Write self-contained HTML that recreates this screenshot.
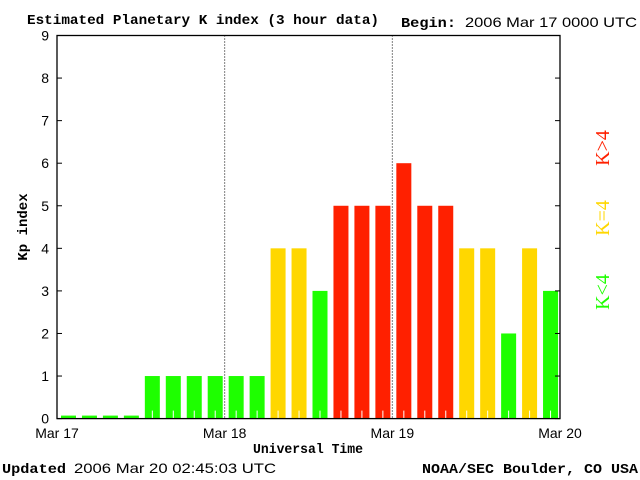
<!DOCTYPE html>
<html><head><meta charset="utf-8"><style>
html,body{margin:0;padding:0;background:#fff;}
svg{display:block;}
.s{font-family:"Liberation Sans",sans-serif;font-size:14px;fill:#000;}
.b{font-family:"Liberation Mono",monospace;font-weight:bold;fill:#000;}
</style></head><body>
<svg id="chart" width="640" height="480" viewBox="0 0 640 480" xmlns="http://www.w3.org/2000/svg">
<text class="b" x="27" y="24" font-size="14" textLength="352" lengthAdjust="spacingAndGlyphs">Estimated Planetary K index (3 hour data)</text>
<text class="b" x="401" y="27" font-size="14" textLength="55" lengthAdjust="spacingAndGlyphs">Begin:</text>
<text class="s" x="465" y="27" textLength="172" lengthAdjust="spacingAndGlyphs">2006 Mar 17 0000 UTC</text>
<g id="bars"></g>
<g id="axes"></g>
<text class="b" transform="translate(27,227) rotate(-90)" text-anchor="middle" font-size="14">Kp index</text>
<text class="b" x="308" y="453" text-anchor="middle" font-size="14" textLength="110" lengthAdjust="spacingAndGlyphs">Universal Time</text>
<text transform="translate(609,148) rotate(-90)" text-anchor="middle" font-family="Liberation Serif,serif" font-size="20" fill="#ff2000">K&gt;4</text>
<text transform="translate(609,218) rotate(-90)" text-anchor="middle" font-family="Liberation Serif,serif" font-size="20" fill="#ffd700">K=4</text>
<text transform="translate(609,292) rotate(-90)" text-anchor="middle" font-family="Liberation Serif,serif" font-size="20" fill="#1eff00">K&lt;4</text>
<text class="b" x="2" y="473" font-size="14" textLength="64" lengthAdjust="spacingAndGlyphs">Updated</text>
<text class="s" x="74" y="473" textLength="202" lengthAdjust="spacingAndGlyphs">2006 Mar 20 02:45:03 UTC</text>
<text class="b" x="422" y="473" font-size="14" textLength="216" lengthAdjust="spacingAndGlyphs">NOAA/SEC Boulder, CO USA</text>
</svg>
<script>
const kpValues = [0,0,0,0,1,1,1,1,1,1,4,4,3,5,5,5,6,5,5,4,4,2,4,3];
const yTicks = [0,1,2,3,4,5,6,7,8,9];
const dayLabels = ["Mar 17","Mar 18","Mar 19","Mar 20"];
const NS="http://www.w3.org/2000/svg";
const X0=57,X1=560,Y0=418.6,Y9=35.5;
const yS=v=>Y0-(Y0-Y9)*v/9;
const slot=(X1-X0)/kpValues.length;
const xS=i=>X0+i*slot;
function mk(t,a,p){const e=document.createElementNS(NS,t);for(const k in a)e.setAttribute(k,a[k]);p.appendChild(e);return e;}
const bars=document.getElementById('bars'),axes=document.getElementById('axes');
kpValues.forEach((v,i)=>{
  const c=v<4?'#1eff00':(v==4?'#ffd700':'#ff2000');
  const top=v===0?Y0-3:yS(v);
  const r=mk('rect',{x:xS(i)+4,y:top,width:15,height:Y0-top,fill:c},bars);
  
  
  if(v>0){mk('line',{x1:xS(i)+11.5,x2:xS(i)+11.5,y1:Y0-8,y2:Y0,stroke:'#fff','stroke-width':1},bars);}
});
mk('rect',{x:X0,y:Y9,width:X1-X0,height:Y0-Y9,fill:'none',stroke:'#000','stroke-width':1.3},axes);
[1,2].forEach(d=>{const x=X0+d*(X1-X0)/3;mk('line',{x1:x,x2:x,y1:Y9,y2:Y0,stroke:'#000','stroke-dasharray':'1,2'},axes);});
yTicks.forEach(t=>{const y=yS(t);
  mk('line',{x1:X0,x2:X0+5,y1:y,y2:y,stroke:'#000'},axes);
  mk('line',{x1:X1-5,x2:X1,y1:y,y2:y,stroke:'#000'},axes);
  const tx=mk('text',{x:49,y:y+5,'text-anchor':'end',class:'s'},axes);tx.textContent=t;
  
  
});
dayLabels.forEach((l,i)=>{const x=X0+i*(X1-X0)/3;
  const tx=mk('text',{x:x,y:438,'text-anchor':'middle',class:'s'},axes);tx.textContent=l;
  
  
});
</script>
</body></html>
